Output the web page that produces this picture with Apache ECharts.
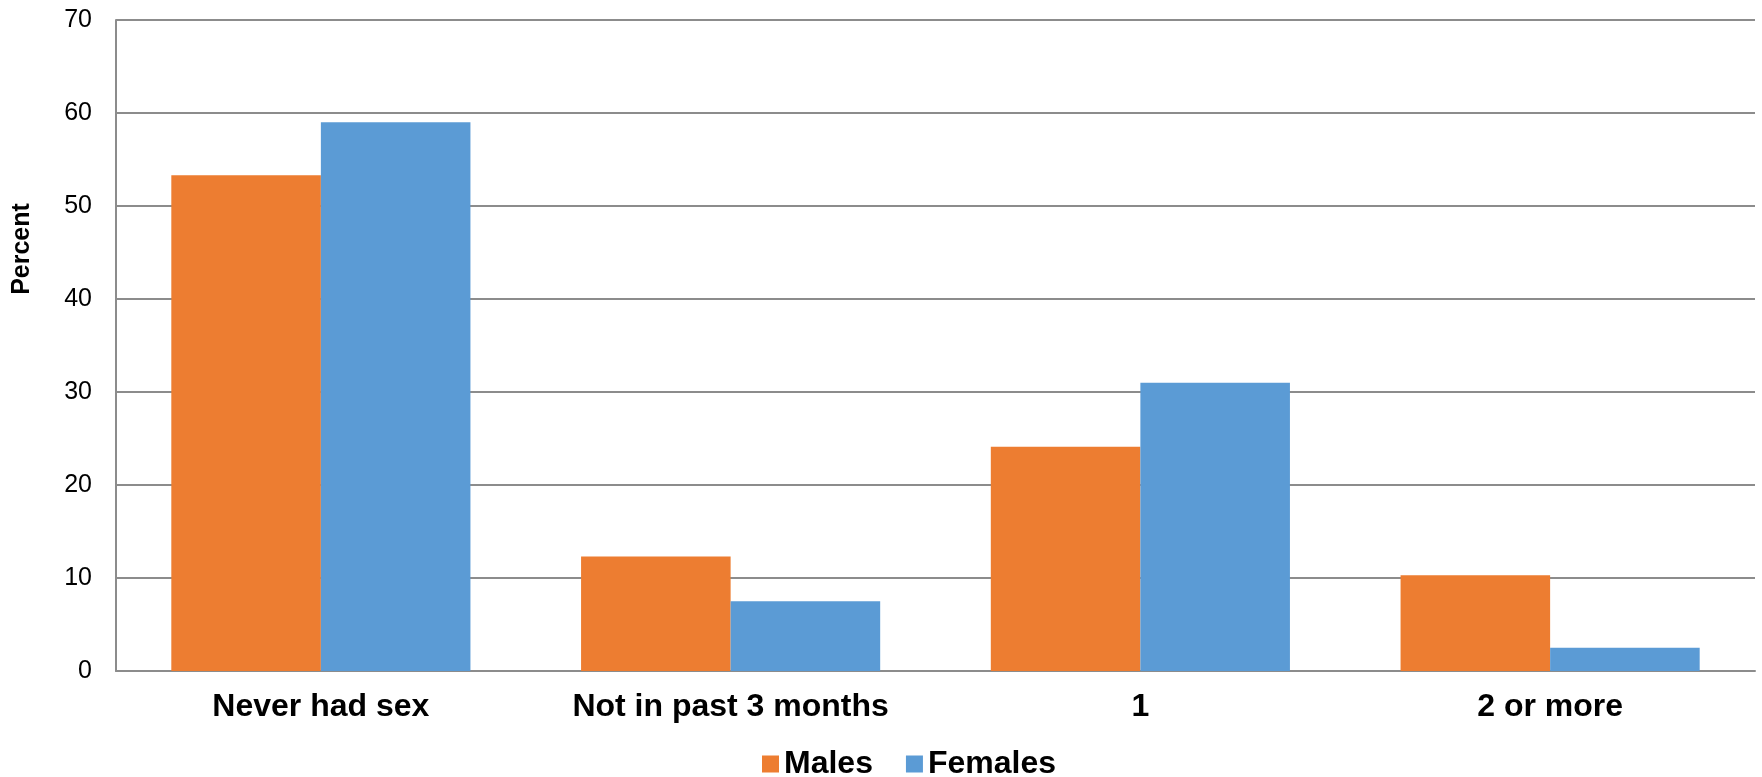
<!DOCTYPE html>
<html>
<head>
<meta charset="utf-8">
<script src="https://cdn.jsdelivr.net/npm/echarts@6/dist/echarts.min.js"></script>
<style>
html,body{margin:0;padding:0;background:#fff;}
#chart{width:1762px;height:777px;}
</style>
</head>
<body>
<div id="chart"></div>
<script>
const categories = ['Never had sex', 'Not in past 3 months', '1', '2 or more'];
const males = [53.3, 12.3, 24.1, 10.3];
const females = [59.0, 7.5, 31.0, 2.5];
const yTicks = { min: 0, max: 70, interval: 10 };
const yTitle = 'Percent';

const font = '"Liberation Sans", Arial, sans-serif';
const chart = echarts.init(document.getElementById('chart'));
chart.setOption({
  animation: false,
  backgroundColor: '#ffffff',
  grid: { left: 116, right: 7, top: 20, bottom: 106, containLabel: false },
  legend: {
    data: ['Males', 'Females'],
    left: 757, top: 743,
    icon: 'rect', itemWidth: 17, itemHeight: 17, itemGap: 33,
    textStyle: { fontFamily: font, fontWeight: 'bold', fontSize: 32, color: '#000', padding: [0,0,0,0] }
  },
  graphic: [{
    type: 'text', x: 22, y: 249, rotation: Math.PI / 2,
    style: { text: yTitle, fontFamily: font, fontWeight: 'bold', fontSize: 25, fill: '#000',
             textAlign: 'center', textVerticalAlign: 'middle' }
  }],
  xAxis: {
    type: 'category', data: categories,
    axisLine: { show: true, lineStyle: { color: '#8c8c8c', width: 2 } },
    axisTick: { show: false },
    axisLabel: { fontFamily: font, fontWeight: 'bold', fontSize: 32, color: '#000', margin: 20, interval: 0 },
    splitLine: { show: false }
  },
  yAxis: {
    type: 'value', min: yTicks.min, max: yTicks.max, interval: yTicks.interval,
    axisLine: { show: true, lineStyle: { color: '#8c8c8c', width: 2 } },
    axisTick: { show: false },
    axisLabel: { fontFamily: font, fontSize: 25, color: '#000', margin: 24 },
    splitLine: { show: true, lineStyle: { color: '#8c8c8c', width: 2 } }
  },
  series: [
    { name: 'Males', type: 'bar', data: males, barGap: '0%', barCategoryGap: '27%',
      itemStyle: { color: '#ED7D31' } },
    { name: 'Females', type: 'bar', data: females, barGap: '0%', barCategoryGap: '27%',
      itemStyle: { color: '#5B9BD5' } }
  ]
});
</script>
</body>
</html>
